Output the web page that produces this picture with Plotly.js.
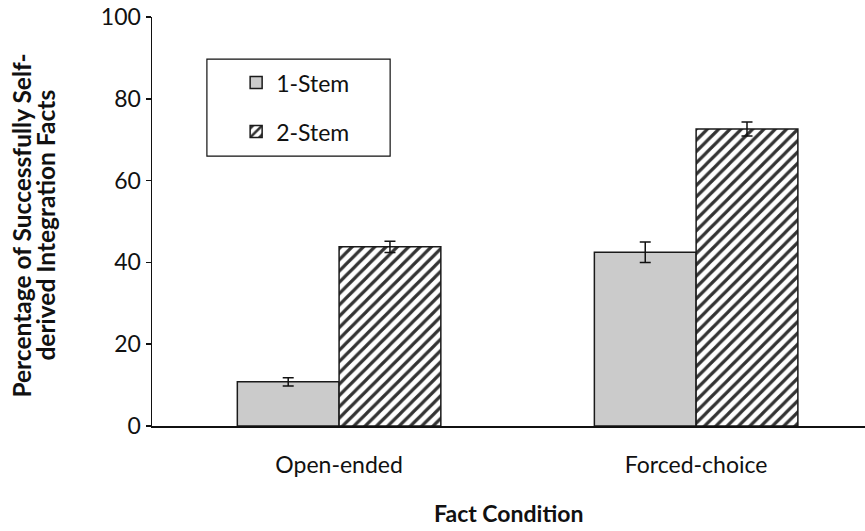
<!DOCTYPE html>
<html>
<head>
<meta charset="utf-8">
<script src="https://cdn.plot.ly/plotly-3.0.1.min.js"></script>
<style>html,body{margin:0;padding:0;background:#fff;}#chart{width:865px;height:531px;}</style>
</head>
<body>
<div id="chart"></div>
<script>
const categories = ["Open-ended", "Forced-choice"];
const seriesNames = ["1-Stem", "2-Stem"];
const oneStem = [10.8, 42.5];
const oneStemErr = [1.0, 2.5];
const twoStem = [43.8, 72.6];
const twoStemErr = [1.4, 1.7];
const yTicks = [0, 20, 40, 60, 80, 100];
const yTitleLines = ["Percentage of Successfully Self-", "derived Integration Facts"];
const xTitle = "Fact Condition";

const FONT = "Lato, 'Open Sans', sans-serif";
const FS = 23;

const traces = [
  {
    type: "bar", name: seriesNames[0], x: categories, y: oneStem,
    legendgroup: "a",
    marker: {color: "#cbcbcb", line: {color: "#1a1a1a", width: 1.5}},
    error_y: {type: "data", array: oneStemErr, visible: true, color: "#111", thickness: 1.5, width: 5.5}
  },
  {
    type: "bar", name: seriesNames[1], x: categories, y: twoStem,
    legendgroup: "b",
    marker: {color: "#ffffff", line: {color: "#1a1a1a", width: 1.5},
      pattern: {shape: "/", fgcolor: "#333333", bgcolor: "#ffffff", size: 8, solidity: 0.4}},
    error_y: {type: "data", array: twoStemErr, visible: true, color: "#111", thickness: 1.5, width: 5.5}
  }
];

const layout = {
  width: 865, height: 531,
  margin: {l: 152, r: 0, t: 17, b: 105},
  paper_bgcolor: "#fff", plot_bgcolor: "#fff",
  font: {family: FONT, size: FS, color: "#111"},
  barmode: "group", bargap: 0.43, bargroupgap: 0,
  showlegend: true,
  legend: {
    x: 0.118, y: 0.892, xanchor: "left", yanchor: "top",
    bgcolor: "rgba(0,0,0,0)", borderwidth: 0,
    font: {family: FONT, size: FS, color: "#111"},
    tracegroupgap: 16, itemwidth: 30
  },
  shapes: [{
    type: "rect", xref: "paper", yref: "paper",
    x0: 0.077, x1: 0.334, y0: 0.66, y1: 0.897,
    line: {color: "#111", width: 1.2}, fillcolor: "rgba(0,0,0,0)", layer: "below"
  }],
  annotations: [
    {text: "<b>" + yTitleLines[0] + "</b>", xref: "paper", yref: "paper", x: 0, xshift: -130, y: 0.49,
     xanchor: "center", yanchor: "middle", textangle: -90, showarrow: false,
     font: {family: FONT, size: 24.5, color: "#111"}},
    {text: "<b>" + yTitleLines[1] + "</b>", xref: "paper", yref: "paper", x: 0, xshift: -106, y: 0.49,
     xanchor: "center", yanchor: "middle", textangle: -90, showarrow: false,
     font: {family: FONT, size: 24.5, color: "#111"}},
    {text: "<b>" + xTitle + "</b>", xref: "paper", yref: "paper", x: 0.5, xshift: 0, y: -0.213,
     xanchor: "center", yanchor: "middle", showarrow: false,
     font: {family: FONT, size: FS, color: "#111"}}
  ],
  xaxis: {
    type: "category", range: [-0.524, 1.473],
    showline: true, linecolor: "#111", linewidth: 1.5,
    ticks: "", showgrid: false, zeroline: false,
    ticklabelstandoff: 18,
    tickfont: {family: FONT, size: FS, color: "#111"}
  },
  yaxis: {
    range: [0, 100], tickvals: yTicks, ticktext: yTicks.map(String),
    showline: true, linecolor: "#111", linewidth: 1.5,
    ticks: "outside", ticklen: 5, tickcolor: "#111", tickwidth: 1.5,
    showgrid: false, zeroline: false,
    tickfont: {family: FONT, size: FS, color: "#111"}
  }
};

Plotly.newPlot("chart", traces, layout, {displayModeBar: false, staticPlot: true});
</script>
</body>
</html>
